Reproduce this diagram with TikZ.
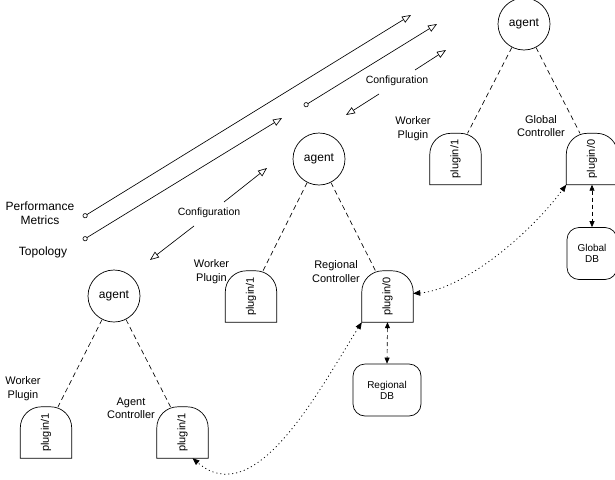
\documentclass[tikz,border=0pt]{standalone}
\usepackage{fontspec}
\setmainfont{Liberation Sans}
\usetikzlibrary{arrows.meta}

\tikzset{
  agent/.style={circle,draw,line width=0.7pt,minimum size=52pt,inner sep=0pt,font=\fontsize{12}{14}\selectfont},
  plug/.style={minimum width=51pt,minimum height=51pt,inner sep=0pt,font=\fontsize{11}{13}\selectfont},
  dbbox/.style={draw,line width=0.7pt,rounded corners=12pt,minimum height=52pt,inner sep=0pt,align=center,font=\fontsize{10}{11}\selectfont},
  role/.style={align=center,font=\fontsize{11}{13.5}\selectfont},
  feed/.style={{Circle[open,length=5pt]}-{Triangle[open,length=9pt,width=7pt]},line width=0.65pt},
  conf/.style={-{Triangle[open,length=9pt,width=7pt]},line width=0.65pt},
  tree/.style={line width=0.65pt,dash pattern=on 5pt off 3.5pt},
  dbline/.style={{Triangle[length=6pt,width=5pt]}-{Triangle[length=6pt,width=5pt]},line width=0.65pt,dash pattern=on 4pt off 3pt},
  sync/.style={{Triangle[length=7pt,width=5.5pt]}-{Triangle[length=7pt,width=5.5pt]},line width=0.75pt,dash pattern=on 1.1pt off 2.9pt}
}

\begin{document}
\begin{tikzpicture}[x=1pt,y=1pt]
  \useasboundingbox (0,0) rectangle (615,-479);

  % global level
  \node[agent] (ga) at (524,-24) {agent};
  \node[plug] (gw) at (455.5,-159) {\rotatebox{90}{plugin/1}};
  \node[plug] (gc) at (592,-159) {\rotatebox{90}{plugin/0}};
  \node[dbbox,minimum width=50pt] (gdb) at (592,-253.5) {Global\\DB};
  \node[role] (gwl) at (413,-128.5) {Worker\\Plugin};
  \node[role] (gcl) at (541,-126) {Global\\Controller};

  % regional level
  \node[agent] (ra) at (319,-159) {agent};
  \node[plug] (rw) at (251,-296.5) {\rotatebox{90}{plugin/1}};
  \node[plug] (rc) at (387.5,-296.5) {\rotatebox{90}{plugin/0}};
  \node[dbbox,minimum width=68pt] (rdb) at (387,-390) {Regional\\DB};
  \node[role] (rwl) at (211.5,-271.5) {Worker\\Plugin};
  \node[role] (rcl) at (336,-271.5) {Regional\\Controller};

  % agent level
  \node[agent] (aa) at (114,-296) {agent};
  \node[plug] (aw) at (46,-432.5) {\rotatebox{90}{plugin/1}};
  \node[plug] (ac) at (182.5,-432.5) {\rotatebox{90}{plugin/1}};
  \node[role] (awl) at (23,-388.5) {Worker\\Plugin};
  \node[role] (acl) at (131,-408.5) {Agent\\Controller};

  % plugin outlines (dome top)
  \foreach \p in {gw,gc,rw,rc,aw,ac}{
    \draw[line width=0.7pt] (\p.south west) -- ([yshift=-21pt]\p.north west)
      arc[start angle=180,end angle=90,radius=21pt] -- ([xshift=-21pt]\p.north east)
      arc[start angle=90,end angle=0,radius=21pt] -- (\p.south east) -- cycle;
  }

  % agent to plugins
  \foreach \a/\w/\c in {ga/gw/gc, ra/rw/rc, aa/aw/ac}{
    \draw[tree] (\a) -- ([xshift=12pt]\w.north);
    \draw[tree] (\a) -- ([xshift=-12pt]\c.north);
  }
  \draw[dbline] (gc.south) -- (gdb.north);
  \draw[dbline] (rc.south) -- (rdb.north);

  % controller sync
  \draw[sync] ([yshift=3pt]rc.east) .. controls (460,-290) and (525,-240) .. (gc.south west);
  \draw[sync] (rc.south west) .. controls (318,-392) and (255,-512) .. ([xshift=10pt]ac.south);

  % metrics and topology
  \node[role,font=\fontsize{12}{14}\selectfont] (perf) at (40,-213) {Performance\\Metrics};
  \node[role,font=\fontsize{12}{14}\selectfont] (topo) at (43,-252) {Topology};
  \coordinate (pm0) at (83,-217);
  \coordinate (pm1) at (411,-15);
  \coordinate (tp0) at (83,-240);
  \coordinate (tp1) at (282,-118);
  \coordinate (rg0) at (304,-106);
  \coordinate (rg1) at (437,-24);
  \draw[feed] (pm0) -- (pm1);
  \draw[feed] (tp0) -- (tp1);
  \draw[feed] (rg0) -- (rg1);

  % configuration
  \node[font=\fontsize{10.5}{12}\selectfont] (cfgu) at (397,-81) {Configuration};
  \node[font=\fontsize{10.5}{12}\selectfont] (cfgl) at (209,-213) {Configuration};
  \coordinate (cu0) at (415,-70);
  \coordinate (cu1) at (446,-50);
  \coordinate (cu2) at (379,-94);
  \coordinate (cu3) at (346,-115);
  \coordinate (cl0) at (224,-202);
  \coordinate (cl1) at (267,-168);
  \coordinate (cl2) at (194,-226);
  \coordinate (cl3) at (150,-260);
  \draw[conf] (cu0) -- (cu1);
  \draw[conf] (cu2) -- (cu3);
  \draw[conf] (cl0) -- (cl1);
  \draw[conf] (cl2) -- (cl3);
\end{tikzpicture}
\end{document}
